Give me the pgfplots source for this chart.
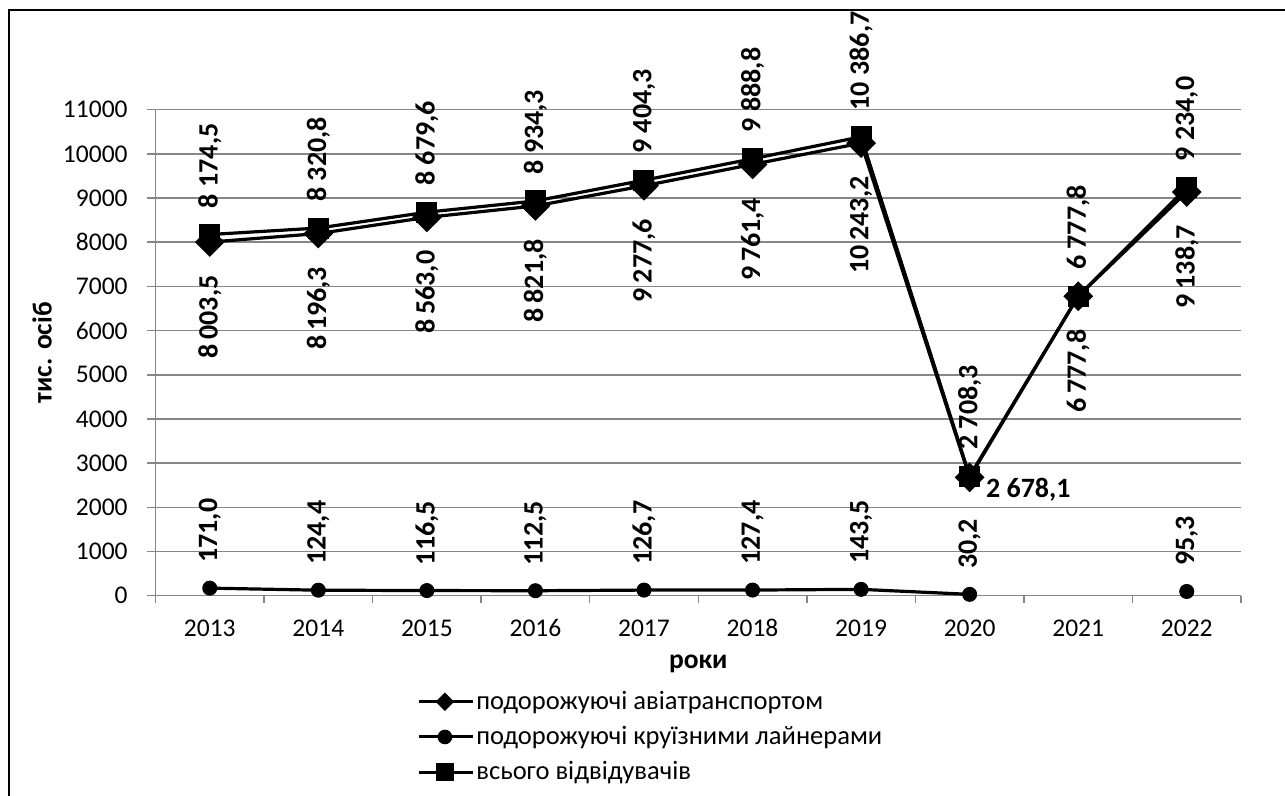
\documentclass[border=0pt]{standalone}
\usepackage{fontspec}
\setmainfont{Carlito}
\usepackage{pgfplots}
\pgfplotsset{compat=1.18}
\definecolor{axgray}{RGB}{134,134,134}
\newcommand{\tickfont}{\fontsize{12.75}{15}\selectfont}
\newcommand{\legfont}{\fontsize{13.25}{16}\selectfont}
\newcommand{\labfont}{\fontsize{14}{16}\selectfont\bfseries}
\begin{document}
\begin{tikzpicture}
\path[use as bounding box] (0,0) rectangle (642.5pt,398pt);
\draw[line width=0.75pt] (4.5pt,-1pt) -- (4.5pt,393pt) -- (644pt,393pt);
\begin{axis}[
  at={(77.75pt,100.15pt)}, anchor=south west,
  scale only axis, width=542.75pt, height=243pt,
  xmin=-0.5, xmax=9.5, ymin=0, ymax=11000,
  clip=false,
  axis lines*=left,
  axis line style={axgray, line width=0.75pt},
  tick align=outside,
  major tick length=4.25pt, minor tick length=3.5pt,
  xtick={0,...,9},
  xticklabels={2013,2014,2015,2016,2017,2018,2019,2020,2021,2022},
  minor xtick={-0.5,0.5,...,9.5},
  every major x tick/.append style={draw=none},
  every minor x tick/.append style={axgray, line width=0.75pt},
  ytick={0,1000,...,11000},
  scaled y ticks=false,
  yticklabels={0,1000,2000,3000,4000,5000,6000,7000,8000,9000,10000,11000},
  every major y tick/.append style={axgray, line width=0.75pt},
  ymajorgrids,
  major grid style={axgray, line width=0.75pt},
  tick label style={font=\tickfont, inner sep=0pt},
  xticklabel style={anchor=north, text height=8.1pt, yshift=-7.75pt},
  yticklabel style={anchor=east, xshift=-9.5pt},
  xlabel={роки},
  xlabel style={at={(axis description cs:0.5,-0.14)}, anchor=center, font=\fontsize{13.75}{16}\selectfont\bfseries},
  ylabel={тис. осіб},
  ylabel style={at={(axis description cs:-0.1046,0.5)}, anchor=center, font=\fontsize{13.75}{16}\selectfont\bfseries},
  legend style={at={(axis description cs:0.2409,-0.2907)}, anchor=west, draw=none, fill=none,
    font=\legfont, inner sep=0pt, row sep=7pt, column sep=1pt,
    nodes={inner sep=0pt}},
  legend cell align=left,
  legend image code/.code={
    \draw[#1, mark=none] (0pt,0pt) -- (27pt,0pt);
    \draw[#1] plot coordinates {(13pt,0pt)};
  },
  point meta=explicit symbolic,
]
% legend images
\addlegendimage{black, line width=1.5pt, mark=square*, mark size=3pt, mark options={rotate=45, line width=0.5pt, fill=black}}
\addlegendentry{подорожуючі авіатранспортом}
\addlegendimage{black, line width=1.5pt, mark=*, mark size=3.4pt, mark options={line width=0.5pt, fill=black}}
\addlegendentry{подорожуючі круїзними лайнерами}
\addlegendimage{black, line width=1.5pt, mark=square*, mark size=4.2pt, mark options={line width=0.5pt, fill=black}}
\addlegendentry{всього відвідувачів}

% air travellers
\addplot[forget plot, black, line width=1.6pt, mark=square*, mark size=5pt,
  mark options={rotate=45, line width=0.5pt, fill=black}]
coordinates {
(0,8003.5) (1,8196.3) (2,8563.0) (3,8821.8) (4,9277.6)
(5,9761.4) (6,10243.2) (7,2678.1) (8,6777.8) (9,9138.7)
};
% cruise travellers
\addplot[forget plot, black, line width=1.6pt, mark=*, mark size=3.5pt,
  mark options={line width=0.5pt, fill=black},
  nodes near coords,
  every node near coord/.append style={font=\labfont, rotate=90, anchor=west, inner ysep=0pt, inner xsep=12.5pt}]
coordinates {
(0,171.0) [171,0] (1,124.4) [124,4] (2,116.5) [116,5] (3,112.5) [112,5]
(4,126.7) [126,7] (5,127.4) [127,4] (6,143.5) [143,5] (7,30.2) [30,2]
};
\addplot[forget plot, black, line width=1.6pt, mark=*, mark size=3.5pt,
  mark options={line width=0.5pt, fill=black},
  nodes near coords,
  every node near coord/.append style={font=\labfont, rotate=90, anchor=west, inner ysep=0pt, inner xsep=12.5pt}]
coordinates {(9,95.3) [95,3]};
% total visitors
\addplot[forget plot, black, line width=1.6pt, mark=square*, mark size=5pt,
  mark options={line width=0.5pt, fill=black},
  nodes near coords,
  every node near coord/.append style={font=\labfont, rotate=90, anchor=west, inner ysep=0pt, inner xsep=13pt}]
coordinates {
(0,8174.5) [8 174,5] (1,8320.8) [8 320,8] (2,8679.6) [8 679,6] (3,8934.3) [8 934,3]
(4,9404.3) [9 404,3] (5,9888.8) [9 888,8] (6,10386.7) [10 386,7] (7,2708.3) [2 708,3]
(8,6777.8) [6 777,8] (9,9234.0) [9 234,0]
};
% labels for air travellers (below)
\addplot[forget plot, draw=none, mark=none,
  nodes near coords,
  every node near coord/.append style={font=\labfont, rotate=90, anchor=east, inner ysep=0pt, inner xsep=16.5pt}]
coordinates {
(0,8003.5) [8\,003,5] (1,8196.3) [8\,196,3] (2,8563.0) [8\,563,0] (3,8821.8) [8\,821,8]
(4,9277.6) [9\,277,6] (5,9761.4) [9\,761,4] (6,10243.2) [10\,243,2]
(8,6777.8) [6\,777,8] (9,9138.7) [9\,138,7]
};
\addplot[forget plot, draw=none, mark=none,
  nodes near coords,
  every node near coord/.append style={font=\labfont, anchor=west, inner sep=0pt, xshift=8pt, yshift=-6.25pt}]
coordinates {(7,2678.1) [2 678,1]};
\end{axis}
\end{tikzpicture}
\end{document}
